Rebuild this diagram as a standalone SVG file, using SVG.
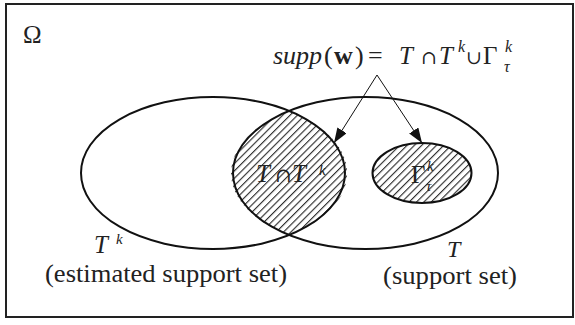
<svg xmlns="http://www.w3.org/2000/svg" width="575" height="325" viewBox="0 0 575 325" font-family="'Liberation Serif', 'Times New Roman', 'DejaVu Serif', serif">
<style>
text{font-family:"Liberation Serif","Times New Roman","DejaVu Serif",serif;fill:#222}
.it{font-style:italic}
.sym{font-family:"DejaVu Serif","Liberation Serif",serif}
.outline{fill:none;stroke:#111;stroke-width:2}
.conn{stroke:#111;stroke-width:1;fill:none}
</style>
<defs>
<pattern id="hatch" patternUnits="userSpaceOnUse" width="5.2" height="10" patternTransform="rotate(45)">
<rect width="5.2" height="10" fill="#fff"/>
<line x1="0.6" y1="0" x2="0.6" y2="10" stroke="#111" stroke-width="1"/>
</pattern>
<marker id="arr" markerUnits="userSpaceOnUse" markerWidth="16" markerHeight="12" refX="15" refY="5.5" orient="auto">
<path d="M0,0 L15,5.5 L0,11 Z" fill="#111"/>
</marker>
</defs>
<rect x="0" y="0" width="575" height="325" fill="#fff"/>
<g id="frame">
<rect x="6" y="4" width="567" height="313" fill="none" stroke="#222" stroke-width="2"/>
<text x="23" y="43" font-size="25">Ω</text>
</g>
<g id="intersection">
<path d="M289.2,111 A132,75 0 0 1 289.2,235.2 A132.5,75 0 0 1 289.2,111 Z" fill="url(#hatch)"/>
<text x="256" y="182" font-size="25" class="it">T</text>
<text x="275" y="182" font-size="20" class="sym">∩</text>
<text x="292" y="182" font-size="25" class="it">T</text>
<text class="it" x="319" y="175" font-size="15">k</text>
</g>
<g id="gamma">
<ellipse cx="422" cy="173" rx="49.5" ry="30" fill="url(#hatch)" stroke="#111" stroke-width="2"/>
<text x="411" y="183" font-size="25">Γ</text>
<text class="it" x="427" y="171" font-size="15">k</text>
<text class="it" x="426" y="191" font-size="15">τ</text>
</g>
<g id="Tk">
<ellipse class="outline" cx="213" cy="173" rx="132" ry="76"/>
<text class="it" x="94" y="253" font-size="25">T</text>
<text class="it" x="116" y="244" font-size="15">k</text>
<text x="45" y="282" font-size="26" textLength="242" lengthAdjust="spacingAndGlyphs">(estimated support set)</text>
</g>
<g id="T">
<ellipse class="outline" cx="365.5" cy="173" rx="132.5" ry="76"/>
<text class="it" x="447" y="257" font-size="24">T</text>
<text x="383" y="284" font-size="26" textLength="134" lengthAdjust="spacingAndGlyphs">(support set)</text>
</g>
<g id="supp">
<text x="273" y="64" font-size="26" class="it">supp</text>
<text x="324" y="64" font-size="26">(</text>
<text x="334" y="64" font-size="26" font-weight="bold">w</text>
<text x="355" y="64" font-size="26">)</text>
<text x="368" y="64" font-size="26">=</text>
<text x="399" y="64" font-size="25" class="it">T</text>
<text x="421" y="64" font-size="19" class="sym">∩</text>
<text x="439" y="64" font-size="25" class="it">T</text>
<text x="458" y="52" font-size="16" class="it">k</text>
<text x="466" y="64" font-size="19" class="sym">∪</text>
<text x="483" y="64" font-size="25">Γ</text>
<text x="505" y="52" font-size="16" class="it">k</text>
<text x="504" y="72" font-size="16" class="it">τ</text>
</g>
<g id="connectors">
<line class="conn" x1="377" y1="75" x2="334" y2="143" marker-end="url(#arr)"/>
<line class="conn" x1="377" y1="75" x2="422" y2="143" marker-end="url(#arr)"/>
</g>
</svg>
